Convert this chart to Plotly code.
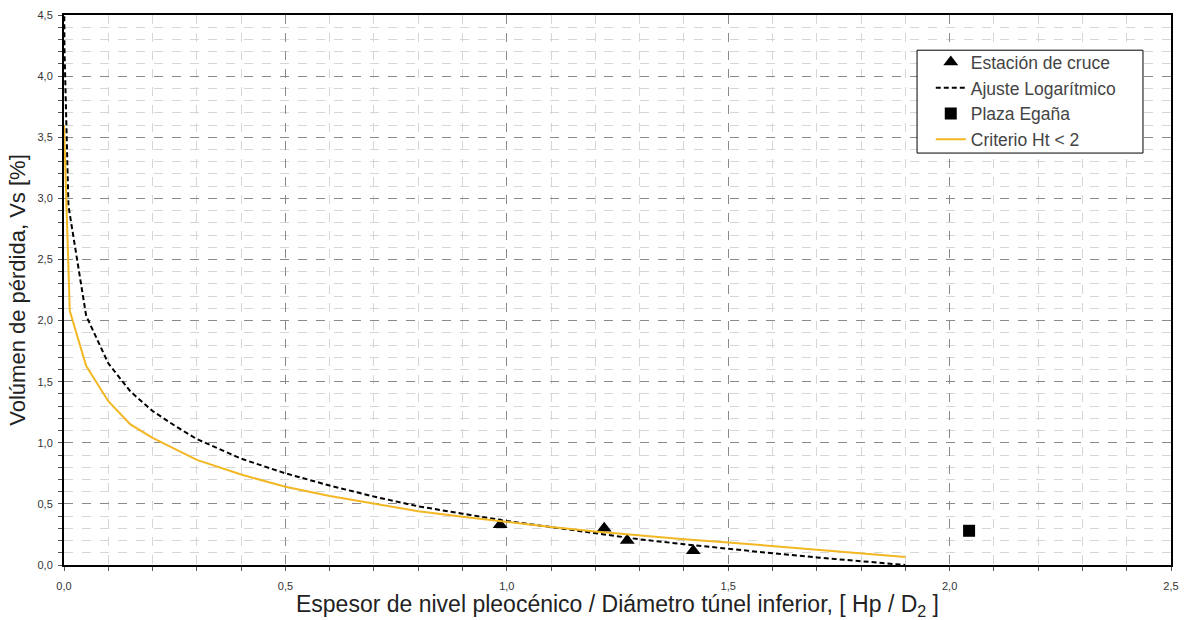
import plotly.graph_objects as go

# Observed points: crossing station and Plaza Egaña
station_x = [0.985, 1.22, 1.272, 1.421]
station_y = [0.33, 0.30, 0.20, 0.117]
egana_x = [2.044]
egana_y = [0.28]

# Logarithmic fit curve
fit_x = [0.0005, 0.001, 0.01, 0.05, 0.1, 0.15, 0.2, 0.25, 0.3, 0.4, 0.5, 0.6, 0.7,
         0.8, 0.9, 1.0, 1.1, 1.2, 1.3, 1.4, 1.5, 1.6, 1.7, 1.8, 1.9]
fit_y = [4.62, 4.23, 2.94, 2.04, 1.65, 1.42, 1.26, 1.14, 1.03, 0.87, 0.75, 0.65, 0.56,
         0.48, 0.42, 0.36, 0.31, 0.26, 0.21, 0.17, 0.13, 0.096, 0.062, 0.030, 0.0]

# Ht < 2 criterion curve
crit_x = [0.0, 0.013, 0.05, 0.1, 0.15, 0.2, 0.25, 0.3, 0.4, 0.5, 0.6, 0.7, 0.8,
          0.9, 1.0, 1.1, 1.2, 1.3, 1.4, 1.5, 1.6, 1.7, 1.8, 1.9]
crit_y = [3.6, 2.08, 1.63, 1.34, 1.15, 1.04, 0.95, 0.86, 0.74, 0.64, 0.565, 0.50, 0.44,
          0.395, 0.35, 0.31, 0.275, 0.24, 0.21, 0.185, 0.155, 0.13, 0.10, 0.065]

x_ticks = [0.0, 0.5, 1.0, 1.5, 2.0, 2.5]
y_ticks = [0.0, 0.5, 1.0, 1.5, 2.0, 2.5, 3.0, 3.5, 4.0, 4.5]

fig = go.Figure()
fig.add_trace(go.Scatter(
    x=station_x, y=station_y, mode="markers", name="Estación de cruce",
    marker=dict(symbol="triangle-up", size=13, color="black")))
fig.add_trace(go.Scatter(
    x=fit_x, y=fit_y, mode="lines", name="Ajuste Logarítmico",
    line=dict(color="black", width=2, dash="5px,3px")))
fig.add_trace(go.Scatter(
    x=egana_x, y=egana_y, mode="markers", name="Plaza Egaña",
    marker=dict(symbol="square", size=12, color="black")))
fig.add_trace(go.Scatter(
    x=crit_x, y=crit_y, mode="lines", name="Criterio Ht < 2",
    line=dict(color="#F2B722", width=2)))

font = "Liberation Sans, Arial, sans-serif"
axis_common = dict(
    showline=True, linecolor="black", linewidth=2, mirror=True,
    ticks="outside", ticklen=4, tickcolor="#555", tickwidth=1,
    tickfont=dict(family=font, size=11, color="#333"),
    showgrid=True, gridcolor="#8a8a8a", griddash="dash", gridwidth=1,
    zeroline=False, automargin=False,
    minor=dict(dtick=0.1, ticks="outside", ticklen=4, tickcolor="#555",
               showgrid=True, gridcolor="#d6d6d6", griddash="dash", gridwidth=1),
)

fig.update_xaxes(
    range=[0, 2.5], tickvals=x_ticks, tickformat=".1f", ticklabelstandoff=6,
    title=dict(text="Espesor de nivel pleocénico / Diámetro túnel inferior, [ Hp / D<sub>2</sub> ]",
               font=dict(family=font, size=23, color="#222"), standoff=4),
    **axis_common)
fig.update_yaxes(
    range=[0, 4.5], tickvals=y_ticks, tickformat=".1f", ticklabelstandoff=3,
    title=dict(text="Volúmen de pérdida, Vs [%]",
               font=dict(family=font, size=22, color="#222"), standoff=6),
    **axis_common)

# Framed white box behind the legend entries
fig.add_shape(
    type="rect", xref="paper", yref="paper",
    x0=0.7706, x1=0.9747, y0=0.749, y1=0.936,
    fillcolor="white", line=dict(color="black", width=1), layer="above")

fig.update_layout(
    width=1189, height=620,
    margin=dict(l=64, r=18, t=15, b=55),
    paper_bgcolor="white", plot_bgcolor="white",
    separators=",.",
    font=dict(family=font),
    legend=dict(
        x=0.783, y=0.947, xanchor="left", yanchor="top",
        bgcolor="rgba(0,0,0,0)", borderwidth=0,
        font=dict(family=font, size=17.5, color="#444"),
        itemwidth=30, tracegroupgap=0,
    ),
)

fig.write_html("out.html")
